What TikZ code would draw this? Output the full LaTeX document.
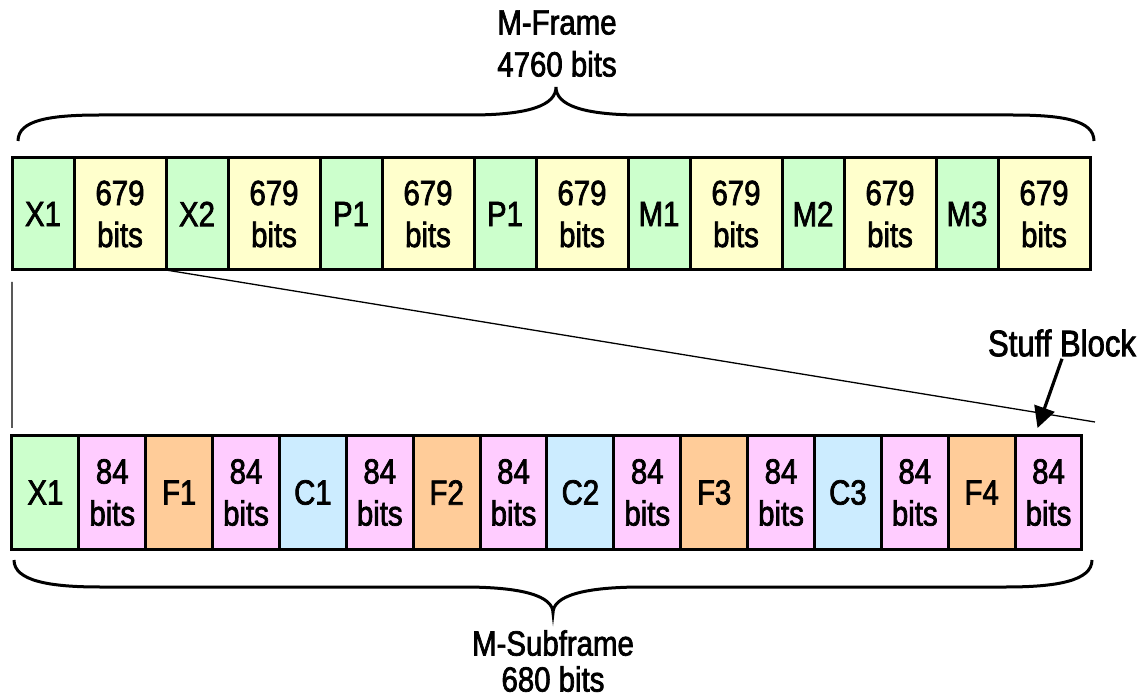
\documentclass[tikz,border=0pt]{standalone}
\usepackage{fontspec}
\setmainfont{Liberation Sans}[FakeStretch=0.84, FakeBold=2]
\usepackage{tikz}
\usetikzlibrary{positioning,arrows.meta}

\definecolor{ovhgreen}{HTML}{CCFFCC}
\definecolor{payyellow}{HTML}{FFFFCC}
\definecolor{paypink}{HTML}{FFCCFF}
\definecolor{stufforange}{HTML}{FFCC99}
\definecolor{ctrlblue}{HTML}{CCECFF}

\tikzset{
  cell/.style={draw, line width=3pt, inner sep=0pt, outer sep=0pt, align=center,
    font=\fontsize{35}{42}\selectfont},
  ovh/.style={cell, fill=ovhgreen, minimum width=62pt, minimum height=112pt},
  payload/.style={cell, fill=payyellow, minimum width=92pt, minimum height=112pt},
  subcell/.style={cell, minimum width=66.875pt, minimum height=113pt},
  subpay/.style={subcell, fill=paypink},
  heading/.style={inner sep=0pt, align=center}
}

\begin{document}
\begin{tikzpicture}[x=1pt, y=-1pt]
\useasboundingbox (0,0) rectangle (1141,700);

% M-frame: overhead bit + 679 payload bits, seven times
\node[ovh] (o1) at (43,214) {X1};
\node[payload, right=0pt of o1] (p1) {679\\bits};
\foreach \lbl [count=\i from 2] in {X2,P1,P1,M1,M2,M3} {
  \pgfmathtruncatemacro\j{\i-1}
  \node[ovh, right=0pt of p\j] (o\i) {\lbl};
  \node[payload, right=0pt of o\i] (p\i) {679\\bits};
}

% M-subframe: overhead bit + 84 payload bits, eight times
\node[subcell, fill=ovhgreen] (bo1) at (45.4,492.5) {X1};
\node[subpay, right=0pt of bo1] (bp1) {84\\bits};
\foreach \lbl/\col [count=\i from 2] in {F1/stufforange, C1/ctrlblue, F2/stufforange,
    C2/ctrlblue, F3/stufforange, C3/ctrlblue, F4/stufforange} {
  \pgfmathtruncatemacro\j{\i-1}
  \node[subcell, fill=\col, right=0pt of bp\j] (bo\i) {\lbl};
  \node[subpay, right=0pt of bo\i] (bp\i) {84\\bits};
}

% expansion lines between the rows
\coordinate (zoomend) at ([shift={(13pt,14pt)}]bp8.north east);
\draw[line width=1.3pt] ([yshift=-12pt]o1.south west) -- ([yshift=8pt]bo1.north west);
\draw[line width=1.3pt] (o2.south west) -- (zoomend);

% stuff block pointer
\node[inner sep=2pt, font=\fontsize{37}{40}\selectfont] (stuff) at (1062,343) {Stuff Block};
\draw[line width=3.2pt, -{Triangle[length=21pt,width=21pt]}]
  (stuff.south) -- ([xshift=-11pt,yshift=8pt]bp8.north);

% braces
\draw[line width=3pt] (18,141) .. controls (18,120) and (50,115) .. (100,115) -- (470,115)
  .. controls (530,115) and (556,105) .. (556,87)
  .. controls (556,105) and (582,115) .. (642,115) -- (1012,115)
  .. controls (1062,115) and (1094,120) .. (1094,141);
\draw[line width=3pt] (14,560) .. controls (14,581) and (50,587) .. (100,587) -- (463,587)
  .. controls (523,587) and (553,596) .. (553,613)
  .. controls (553,596) and (583,587) .. (643,587) -- (1006,587)
  .. controls (1056,587) and (1092,581) .. (1092,560);

\node[heading, anchor=south, font=\fontsize{35}{42}\selectfont] (mframe) at (557,77) {M-Frame\\4760 bits};
\node[heading, anchor=north, font=\fontsize{35}{36}\selectfont] (msub) at (553,630) {M-Subframe\\680 bits};
\end{tikzpicture}
\end{document}
